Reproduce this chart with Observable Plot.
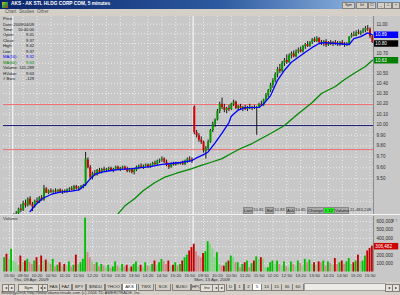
<!DOCTYPE html>
<html><head><meta charset="utf-8">
<script src="https://cdn.jsdelivr.net/npm/d3@7"></script>
<script src="https://cdn.jsdelivr.net/npm/@observablehq/plot@0.6"></script>
<style>
html,body{margin:0;padding:0}
body{width:400px;height:295px;overflow:hidden;position:relative;background:#d4d0c8;font-family:"Liberation Sans",Arial,sans-serif}
.a{position:absolute;white-space:nowrap;line-height:1}
.tbtn{top:1.5px;height:5px;background:#d4d0c8;border:0.5px solid #808080;font-size:3.6px;color:#222;text-align:center;line-height:5px}
.menu{top:10px;font-size:4.6px;color:#555}
.info{font-size:4.1px;color:#111}
.sbox{top:207px;height:5px;background:#a9a9a9;font-size:4.3px;color:#222;text-align:center;line-height:5px;border:0.5px solid #888}
.sval{top:207px;font-size:4.3px;color:#333;line-height:5px}
.tab{top:283.5px;height:6px;font-size:4.3px;color:#222;line-height:6px;text-align:center;border:0.5px solid #808080;border-top:none;background:#d4d0c8}
</style></head>
<body>
<script>
// ---------- DATA ----------
const open = [
9.08,9.10,9.07,9.11,9.12,9.17,9.19,9.23,9.22,9.28,
9.26,9.32,9.27,9.25,9.30,9.29,9.33,9.31,9.41,9.37,
9.39,9.38,9.39,9.38,9.40,9.38,9.39,9.38,9.40,9.41,
9.40,9.43,9.41,9.42,9.43,9.44,9.67,9.60,9.51,9.545,
9.535,9.575,9.555,9.585,9.575,9.585,9.595,9.575,9.585,9.605,
9.585,9.595,9.605,9.585,9.565,9.585,9.555,9.575,9.605,9.615,
9.605,9.615,9.625,9.605,9.625,9.64,9.63,9.66,9.67,9.68,
9.65,9.62,9.605,9.635,9.625,9.64,9.635,9.64,9.63,9.66,
9.68,9.67,10.17,9.925,9.895,9.855,9.835,9.75,9.775,9.835,
9.945,10.005,10.045,10.125,10.195,10.165,10.135,10.155,10.145,10.195,
10.215,10.155,10.175,10.155,10.165,10.145,10.165,10.155,10.165,10.155,
10.165,10.195,10.185,10.235,10.28,10.33,10.38,10.424,10.484,10.538,
10.518,10.598,10.628,10.608,10.674,10.694,10.664,10.714,10.734,10.714,
10.77,10.79,10.77,10.81,10.84,10.82,10.85,10.81,10.80,10.82,
10.78,10.81,10.79,10.81,10.80,10.79,10.81,10.79,10.78,10.79,
10.865,10.885,10.875,10.91,10.90,10.92,10.93,10.955,10.945,10.87];
const high = [
9.12,9.13,9.12,9.14,9.19,9.21,9.24,9.27,9.30,9.31,
9.33,9.34,9.29,9.31,9.33,9.34,9.35,9.44,9.42,9.40,
9.41,9.40,9.41,9.40,9.41,9.40,9.40,9.41,9.42,9.43,
9.44,9.44,9.43,9.44,9.45,9.74,9.69,9.62,9.56,9.575,
9.585,9.595,9.595,9.605,9.595,9.605,9.605,9.595,9.615,9.615,
9.605,9.615,9.615,9.605,9.595,9.595,9.585,9.615,9.625,9.635,
9.625,9.635,9.635,9.635,9.65,9.66,9.67,9.68,9.70,9.69,
9.67,9.64,9.645,9.65,9.65,9.65,9.65,9.66,9.67,9.69,
9.70,9.69,10.18,9.945,9.915,9.885,9.845,9.795,9.855,9.955,
10.025,10.055,10.145,10.215,10.255,10.195,10.165,10.185,10.205,10.235,
10.225,10.185,10.195,10.175,10.185,10.175,10.195,10.175,10.185,10.175,
10.205,10.225,10.245,10.30,10.34,10.40,10.445,10.504,10.558,10.588,
10.618,10.648,10.684,10.694,10.714,10.724,10.734,10.754,10.764,10.78,
10.80,10.82,10.82,10.85,10.86,10.87,10.86,10.83,10.83,10.84,
10.82,10.83,10.82,10.83,10.82,10.82,10.83,10.81,10.81,10.87,
10.905,10.92,10.93,10.94,10.93,10.955,10.975,10.985,10.96,10.88];
const low = [
9.05,9.06,9.06,9.09,9.08,9.14,9.17,9.20,9.21,9.24,
9.25,9.26,9.21,9.24,9.28,9.28,9.30,9.30,9.37,9.36,
9.37,9.36,9.37,9.37,9.37,9.36,9.37,9.37,9.38,9.39,
9.39,9.40,9.39,9.40,9.41,9.43,9.59,9.49,9.49,9.52,
9.525,9.545,9.545,9.565,9.555,9.565,9.565,9.555,9.575,9.575,
9.565,9.585,9.575,9.555,9.555,9.545,9.535,9.565,9.585,9.595,
9.585,9.605,9.595,9.595,9.615,9.62,9.62,9.64,9.65,9.64,
9.61,9.585,9.595,9.615,9.615,9.625,9.625,9.62,9.62,9.64,
9.65,9.64,9.905,9.875,9.835,9.815,9.735,9.68,9.755,9.825,
9.925,9.975,10.035,10.105,10.145,10.115,10.105,10.125,10.135,10.175,
10.145,10.135,10.145,10.125,10.135,10.125,10.145,10.135,10.145,9.90,
10.155,10.175,10.175,10.225,10.26,10.31,10.35,10.404,10.454,10.498,
10.508,10.568,10.588,10.598,10.644,10.654,10.654,10.694,10.704,10.704,
10.74,10.76,10.76,10.79,10.81,10.81,10.80,10.78,10.77,10.76,
10.77,10.78,10.77,10.78,10.77,10.77,10.78,10.76,10.77,10.78,
10.855,10.87,10.87,10.89,10.88,10.90,10.91,10.925,10.85,10.80];
const close = [
9.10,9.07,9.11,9.12,9.17,9.19,9.23,9.22,9.28,9.26,
9.32,9.27,9.25,9.30,9.29,9.33,9.31,9.41,9.37,9.39,
9.38,9.39,9.38,9.40,9.38,9.39,9.38,9.40,9.41,9.40,
9.43,9.41,9.42,9.43,9.44,9.68,9.60,9.51,9.545,9.535,
9.575,9.555,9.585,9.575,9.585,9.595,9.575,9.585,9.605,9.585,
9.595,9.605,9.585,9.565,9.585,9.555,9.575,9.605,9.615,9.605,
9.615,9.625,9.605,9.625,9.64,9.63,9.66,9.67,9.68,9.65,
9.62,9.605,9.635,9.625,9.64,9.635,9.64,9.63,9.66,9.68,
9.67,9.66,9.925,9.895,9.855,9.835,9.755,9.775,9.835,9.945,
10.005,10.045,10.125,10.195,10.165,10.135,10.155,10.145,10.195,10.215,
10.155,10.175,10.155,10.165,10.145,10.165,10.155,10.165,10.155,10.165,
10.195,10.185,10.235,10.28,10.33,10.38,10.424,10.484,10.538,10.518,
10.598,10.628,10.608,10.674,10.694,10.664,10.714,10.734,10.714,10.77,
10.79,10.77,10.81,10.84,10.82,10.85,10.81,10.80,10.82,10.78,
10.81,10.79,10.81,10.80,10.79,10.81,10.79,10.78,10.79,10.865,
10.885,10.875,10.91,10.90,10.92,10.93,10.955,10.945,10.87,10.81];
// volume in thousands of shares
const volumeK = [
170,210,150,270,130,110,75,190,110,130,
150,110,90,130,170,75,190,130,141.289,110,
90,150,60,80,110,60,90,70,120,60,
80,200,90,110,150,640,230,170,120,90,
110,60,90,70,50,80,40,60,120,70,
50,90,60,80,40,60,90,120,60,80,
50,110,70,60,90,130,80,110,150,120,
90,130,60,80,110,70,90,130,170,200,
250,290,330,240,190,170,220,240,360,330,
270,170,230,90,70,70,110,130,190,170,
110,110,50,90,110,130,52,100,130,180,
150,170,150,50,50,110,130,90,130,90,
70,120,60,50,120,90,70,130,100,70,
150,110,140,90,110,80,120,110,130,70,
120,100,80,160,90,110,130,90,120,160,
90,110,130,200,120,130,190,250,280,306.482];
const ma10Bar = [11,13,16,18,20,24,29,32,35,37,39,42,46,50,55,59,63,68,72,76,81,83,86,88,91,94,97,98,101,104,110,112,115,118,121,124,127,130,133,136,138,149,151,154,157,159];
const ma10Val = [9.21,9.26,9.32,9.34,9.36,9.38,9.39,9.40,9.45,9.50,9.54,9.56,9.575,9.585,9.593,9.602,9.611,9.63,9.639,9.648,9.666,9.69,9.72,9.745,9.83,9.92,10.02,10.08,10.14,10.164,10.165,10.20,10.28,10.43,10.53,10.61,10.66,10.71,10.76,10.80,10.81,10.79,10.85,10.87,10.91,10.89];
const ma60Bar = [49,52,56,60,65,69,74,81,85,89,94,98,102,107,111,115,121,126,133,137,143,147,151,156,159];
const ma60Val = [9.19,9.26,9.32,9.395,9.467,9.512,9.548,9.593,9.621,9.648,9.684,9.731,9.777,9.823,9.87,9.917,9.992,10.087,10.213,10.30,10.369,10.438,10.497,10.567,10.63];
const redLevels = [10.193, 9.767];
const navyLevels = [9.992];
const dayStarts = [3.5, 81.5];
const dayLabels = ["Thu, 09 Apr, 2009", "Mon, 13 Apr, 2009"];
const priceGrid = [9.2,9.3,9.4,9.5,9.6,9.7,9.8,9.9,10.0,10.1,10.2,10.3,10.4,10.5,10.6,10.7,10.8,10.9,11.0];
const priceTickLabels = [9.2,9.3,9.4,9.5,9.6,9.7,9.8,9.9,10.0,10.1,10.2,10.3,10.4,10.5,10.7,11.0];
const volTicksK = [100,200,300,400,500,600];
const timeTickBars = [2,8,14,20,26,32,38,44,50,56,62,68,74,80,86,92,98,104,110,116,122,128,134,140,146,152,158];
const timeTickLabels = ["15:50","09:50","10:20","10:50","11:20","11:50","12:20","12:50","13:20","13:50","14:20","14:50","15:20","15:50","09:50","10:20","10:50","11:20","11:50","12:20","12:50","13:20","13:50","14:20","14:50","15:20","15:50"];
const priceBoxVals = [10.89, 10.80, 10.63];
const priceBoxText = ["10.89", "10.80", "10.63"];
const priceBoxColor = ["#0000ff", "#000000", "#008000"];
const volBoxVal = [306.482];
const volBoxText = ["306,482"];
const infoLabels = ["Date:","Time:","Open:","Close:","High:","Low:","MA(10):","MA(60):","Volume:","HValue:","# Bars:"];
const infoValues = ["2009/04/09","10:40:00","9.41","9.37","9.42","9.37","9.32","9.63","141,289","9.63","-129"];
const infoColors = ["#111","#111","#111","#111","#111","#111","#0000ee","#008000","#111","#111","#111"];

// ---------- BUILD ----------
const bars = close.map((c, i) => ({i, o: open[i], h: high[i], l: low[i], c, v: volumeK[i], pv: i ? volumeK[i-1] : 0}));
const ma10 = ma10Bar.map((b, k) => ({b, v: ma10Val[k]}));
const ma60 = ma60Bar.map((b, k) => ({b, v: ma60Val[k]}));
const timeLabelMap = new Map(timeTickBars.map((b, k) => [b, timeTickLabels[k]]));
const xDom = [-0.5, 159.5];
const FONT = "'Liberation Sans Narrow','Liberation Sans',Arial,sans-serif";
const grid = {stroke: "#ececec", strokeDasharray: "1,2", strokeWidth: 1};
const up = "#009a00", down = "#d80000";

function el(cls, css, txt) {
  const d = document.createElement("div");
  d.className = "a " + (cls || "");
  d.style.cssText = css;
  if (txt != null) d.textContent = txt;
  document.body.appendChild(d);
  return d;
}

// title bar
el("", "left:0;top:0;width:400px;height:9px;background:linear-gradient(to right,#0a246a,#2d5aa0 55%,#a6caf0)");
el("", "left:2px;top:1.5px;width:6px;height:6px;background:linear-gradient(135deg,#e0c040,#30a030 50%,#c03030)");
el("", "left:11px;top:2px;font-size:4.8px;font-weight:bold;color:#fff", "AKS - AK STL HLDG CORP COM, 5 minutes");
[["Sym",342,11],["Int",356,10],["\u2610",368,6],["_",377,6],["\u25a1",384,6],["\u00d7",392,6]].forEach(([t,x,w]) =>
  el("tbtn", `left:${x}px;width:${w}px`, t));
// menu bar
el("", "left:0;top:9px;width:400px;height:7px;background:#d4d0c8");
[["Chart",5],["Studies",19],["Other",37]].forEach(([t,x]) => el("menu", `left:${x}px`, t));

// price panel
const priceChart = Plot.plot({
  width: 400, height: 198, marginLeft: 3, marginRight: 27, marginTop: 0, marginBottom: 0,
  style: {background: "#c8c8c8", fontFamily: FONT, fontSize: "4.6px", color: "#303030", overflow: "visible"},
  x: {domain: xDom, axis: null},
  y: {type: "log", domain: [9.184, 11.08], axis: null},
  marks: [
    Plot.ruleY(priceGrid, grid),
    Plot.ruleX(timeTickBars, grid),
    Plot.ruleX(dayStarts, {stroke: "#ffffff"}),
    Plot.ruleY(redLevels, {stroke: "#f07070"}),
    Plot.ruleY(navyLevels, {stroke: "#1c1c78"}),
    Plot.line(ma60, {x: "b", y: "v", stroke: "#008a00", strokeWidth: 1.3, clip: true}),
    Plot.ruleX(bars, {x: "i", y1: "l", y2: "h", stroke: "#1a1a1a", clip: true}),
    Plot.ruleX(bars, {x: "i", y1: "o", y2: "c", stroke: d => d.c >= d.o ? up : down, strokeWidth: 2, clip: true}),
    Plot.line(ma10, {x: "b", y: "v", stroke: "#0000ff", strokeWidth: 1.3, clip: true}),
    Plot.ruleX([159.5], {stroke: "#8a8a8a"}),
    Plot.axisY(priceTickLabels, {anchor: "right", tickSize: 0, tickPadding: 3, fontSize: 4.6, fill: "#303030", tickFormat: d3.format(".2f")}),
    Plot.ruleY(priceBoxVals, {x1: 159.9, x2: 170.4, stroke: (d, k) => priceBoxColor[k], strokeWidth: 6.5}),
    Plot.text(priceBoxVals, {x: 160.3, y: d => d, text: (d, k) => priceBoxText[k], fill: "#ffffff", textAnchor: "start", fontSize: 4.6})
  ]
});
const pWrap = el("", "left:0;top:16px;width:400px;height:198px");
pWrap.appendChild(priceChart);

// info box
el("info", "left:3px;top:17px", "Price");
infoLabels.forEach((t, k) => {
  el("info", `left:3px;top:${22.5 + k * 5.45}px;color:${infoColors[k]}`, t);
  el("info", `right:${400 - 34}px;top:${22.5 + k * 5.45}px;color:${infoColors[k]};text-align:right`, infoValues[k]);
});

// status strip
el("sbox", "left:243px;width:8px", "Last");
el("sval", "left:253px", "10.81");
el("sbox", "left:265px;width:7px", "Bid");
el("sval", "left:274px", "10.83");
el("sbox", "left:286px;width:7px", "Ask");
el("sval", "left:295px", "10.85");
el("sbox", "left:307px;width:15px", "Change");
el("sbox", "left:323px;width:10px;background:#22ee22", "1.12");
el("sbox", "left:334px;width:13px", "Volume");
el("sval", "left:350px", "11,483,248");

// panel separator
el("", "left:0;top:214px;width:400px;height:1px;background:#f4f4f4");

// volume panel
const volColor = d => d.c >= d.o ? (d.v >= d.pv ? "#00c000" : "#84d484") : (d.v >= d.pv ? "#c40000" : "#d88484");
const volChart = Plot.plot({
  width: 400, height: 67, marginLeft: 3, marginRight: 27, marginTop: 1, marginBottom: 10.5,
  style: {background: "#c8c8c8", fontFamily: FONT, fontSize: "4.6px", color: "#303030", overflow: "visible"},
  x: {domain: xDom, axis: null},
  y: {domain: [0, 659], axis: null},
  marks: [
    Plot.ruleY(volTicksK, grid),
    Plot.ruleX(timeTickBars, grid),
    Plot.ruleX(dayStarts, {stroke: "#ffffff"}),
    Plot.rectY(bars, {x1: d => d.i - 0.4, x2: d => d.i + 0.4, y: "v", fill: volColor}),
    Plot.ruleX([159.5], {stroke: "#8a8a8a"}),
    Plot.axisY(volTicksK, {anchor: "right", tickSize: 0, tickPadding: 3, fontSize: 4.6, fill: "#303030", tickFormat: d => d === 300 ? "" : d3.format(",")(d * 1000)}),
    Plot.ruleY(volBoxVal, {x1: 159.9, x2: 170.4, stroke: "#cc0000", strokeWidth: 6.5}),
    Plot.text(volBoxVal, {x: 160.3, y: d => d, text: (d, k) => volBoxText[k], fill: "#ffffff", textAnchor: "start", fontSize: 4.6}),
    Plot.axisX(timeTickBars, {anchor: "bottom", tickSize: 0, tickPadding: 1.5, fontSize: 4.4, fill: "#303030", tickFormat: d => timeLabelMap.get(d)}),
    Plot.text(dayStarts, {x: d => d, y: 0, dy: 8, dx: 1, text: (d, k) => dayLabels[k], textAnchor: "start", fill: "#303030", fontSize: 4.4})
  ]
});
const vWrap = el("", "left:0;top:215px;width:400px;height:67px");
vWrap.appendChild(volChart);
el("", "left:3px;top:216.5px;font-size:4.4px;color:#333", "Volume");

// tab bar
el("", "left:0;top:282px;width:400px;height:8px;background:#d4d0c8");
[["\u25c2",2,5],["\u25b8",8,5],["Sym",18,19],["\u25c2",38,4],["\u25b8",42,4]].forEach(([t,x,w]) =>
  el("tab", `left:${x}px;width:${w}px;border-top:0.5px solid #808080;background:#e4e0d8`, t));
[["FAS",47,11],["FAZ",59,11],["SPY",72,12],["$INDU",86,17],["YHOO",105,15],["AKS",122,13,true],["TWX",138,14],["SCK",155,14],["$USO",172,17],["HPQ",191,9]].forEach(([t,x,w,sel]) =>
  el("tab", `left:${x}px;width:${w}px;${sel ? "background:#ffffff" : ""}`, t));
[["Inv",200,12],["\u25c2",212,5],["\u25b8",218,5]].forEach(([t,x,w]) =>
  el("tab", `left:${x}px;width:${w}px;border-top:0.5px solid #808080;background:#e4e0d8`, t));
[["D",226,7],["1",235,7],["2",244,7],["5",252,8,true],["10",261,9],["15",271,9],["30",281,10],["60",292,10]].forEach(([t,x,w,sel]) =>
  el("tab", `left:${x}px;width:${w}px;${sel ? "background:#ffffff" : ""}`, t));
el("", "left:304px;top:283px;width:80px;height:6px;background:#ecebe6;border:0.5px solid #a0a0a0");
el("tab", "left:385px;width:6px;border-top:0.5px solid #808080;background:#e4e0d8", "\u25c2");
el("tab", "left:392px;width:6px;border-top:0.5px solid #808080;background:#e4e0d8", "\u25b8");
// status line
el("", "left:1px;top:290.5px;font-size:4.2px;color:#333", "StrategyDesk http://www.tdameritrade.com (c) 2006 TD AMERITRADE, Inc.");
</script>
</body></html>
